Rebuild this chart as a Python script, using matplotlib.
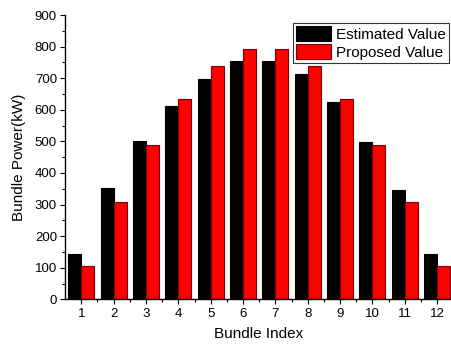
import matplotlib
matplotlib.use("Agg")
import matplotlib.pyplot as plt
from matplotlib.ticker import MultipleLocator
import numpy as np

plt.rcParams['font.family'] = ['Liberation Sans', 'DejaVu Sans']

bundles = [1, 2, 3, 4, 5, 6, 7, 8, 9, 10, 11, 12]
estimated = [143, 351, 500, 611, 697, 753, 753, 714, 624, 499, 346, 144]
proposed = [104, 307, 487, 635, 738, 793, 793, 739, 635, 487, 307, 104]
series_labels = ['Estimated Value', 'Proposed Value']

fig = plt.figure(figsize=(4.51, 3.45), dpi=100)
ax = fig.add_axes([65.3/451, (345-299.3)/345, (451-65.3)/451, (299.3-15)/345])

x = np.array(bundles, dtype=float)
w = 0.4
ax.bar(x - w/2, estimated, width=w, color='black', edgecolor='black', linewidth=0.8, label=series_labels[0])
ax.bar(x + w/2, proposed, width=w, color='#ff0000', edgecolor='#7a0000', linewidth=0.8, label=series_labels[1])

ax.set_xlim(0.505, 12.43)
ax.set_ylim(0, 900)
ax.set_xticks(bundles)
ax.set_xticklabels([str(b) for b in bundles])
ax.xaxis.set_minor_locator(MultipleLocator(0.5))
ax.yaxis.set_major_locator(MultipleLocator(100))
ax.yaxis.set_minor_locator(MultipleLocator(50))
ax.tick_params(axis='both', which='major', direction='out', length=3.5, width=0.8, labelsize=9.5, pad=2.5)
ax.tick_params(axis='both', which='minor', direction='out', length=2.5, width=0.8)

for s in ['top', 'right']:
    ax.spines[s].set_visible(False)
for s in ['left', 'bottom']:
    ax.spines[s].set_linewidth(1.0)

ax.set_xlabel('Bundle Index', fontsize=11, labelpad=5)
ax.set_ylabel('Bundle Power(kW)', fontsize=11, labelpad=6)

leg = ax.legend(loc='upper left', bbox_to_anchor=((293.3-65.3)/(451-65.3), (299.3-23.3)/(299.3-15)),
                fontsize=11, frameon=True, fancybox=False, shadow=False,
                handlelength=2.25, handleheight=1.1, handletextpad=0.35,
                labelspacing=0.15, borderpad=0.2, borderaxespad=0.0)
leg.get_frame().set_edgecolor('black')
leg.get_frame().set_linewidth(0.8)

fig.savefig('out.png', dpi=100)
